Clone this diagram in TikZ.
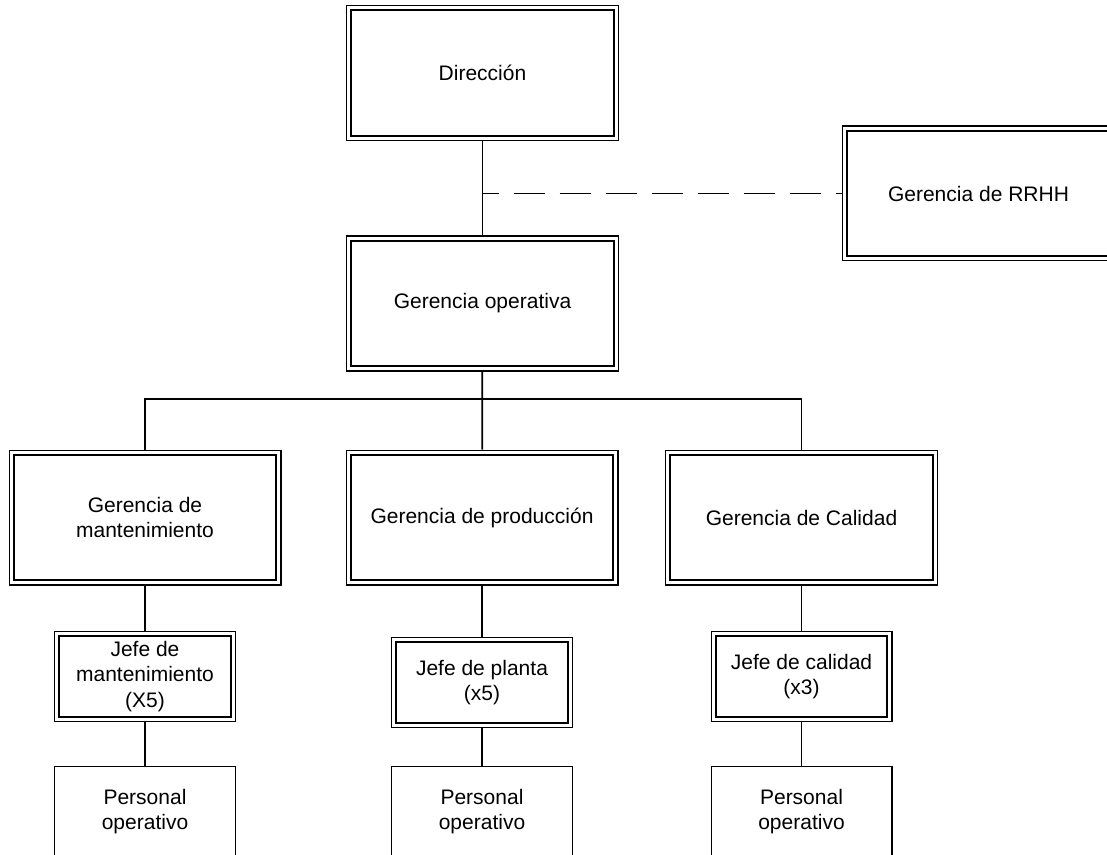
\documentclass[tikz,border=0pt]{standalone}
\usepackage{fontspec}
\setmainfont{Liberation Sans}

\begin{document}
\begin{tikzpicture}[x=0.5pt,y=-0.5pt]
%% Styles
\tikzset{
  dbox/.style={draw, line width=0.6pt, align=center, inner sep=1pt,
    font=\fontsize{10.5}{12.8}\selectfont,
    path picture={\path[draw,line width=0.95pt]
      ([xshift=2.3pt,yshift=-2.3pt]path picture bounding box.north west) rectangle
      ([xshift=-2.3pt,yshift=2.3pt]path picture bounding box.south east);}},
  bigbox/.style={dbox, minimum width=135.9pt, minimum height=67.4pt},
  jefebox/.style={dbox, minimum width=90.4pt, minimum height=44.9pt},
  persbox/.style={draw, line width=0.7pt, align=center, inner sep=1pt,
    minimum width=90.3pt, minimum height=44.8pt, font=\fontsize{10.5}{12.8}\selectfont},
  link/.style={line width=0.9pt},
}
\useasboundingbox (0,0) rectangle (1107,855);
\clip (0,0) rectangle (1107,855);

%% Top of the chart
\node[bigbox] (dir) at (482.5,73) {Dirección};
\node[bigbox] (op) at (482.5,303.5) {Gerencia operativa};
\node[bigbox] (rrhh) at (978.5,193.5) {Gerencia de RRHH};
\path[draw,link] (dir) -- (op);
\path[draw,link,dash pattern=on 15.5pt off 7.5pt,dash phase=7.5pt] (dir.south |- rrhh.west) -- (rrhh.west);

%% Columns
\foreach \col/\x/\jy/\gtxt/\jtxt in {
  man/145/676.5/{Gerencia de\\mantenimiento}/{Jefe de\\mantenimiento\\(X5)},
  pla/482/682.5/{Gerencia de producción}/{Jefe de planta\\(x5)},
  cal/801.5/676.5/{Gerencia de Calidad}/{Jefe de calidad\\(x3)}}{
% Managers
\node[bigbox] (g\col) at (\x,517.5) {\gtxt};
% Chiefs
\node[jefebox] (j\col) at (\x,\jy) {\jtxt};
% Staff
\node[persbox] (p\col) at (\x,811.5) {Personal\\operativo};
\path[draw,link] (g\col) -- (j\col) -- (p\col);
}

%% Bus
\coordinate (bus) at (482.5,399);
\path[draw,link] (op) -- (gpla);
\path[draw,link] (gman.north) |- (bus) -| (gcal.north);

\end{tikzpicture}
\end{document}
